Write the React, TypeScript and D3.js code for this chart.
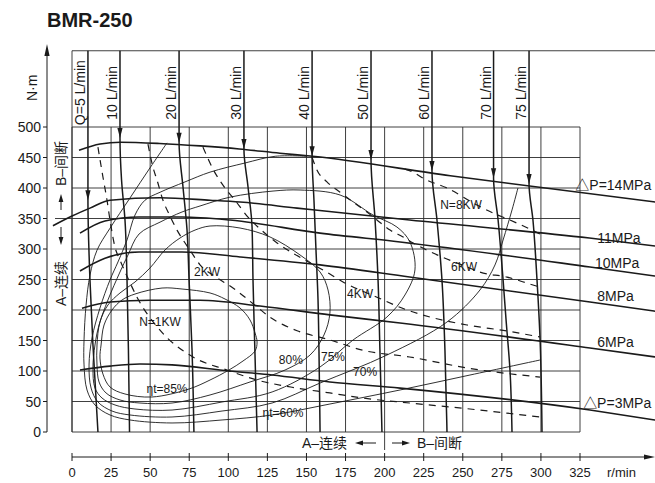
import React from 'react';
import * as d3 from 'd3';

type P = [number, number];

// ---------- data (speed r/min, torque N·m) ----------
const speedTicks = [0, 25, 50, 75, 100, 125, 150, 175, 200, 225, 250, 275, 300, 325];
const torqueTicks = [0, 50, 100, 150, 200, 250, 300, 350, 400, 450, 500];

const pressureNames = ['△P=14MPa', '11MPa', '10MPa', '8MPa', '6MPa', '△P=3MPa'];
const p14: P[] = [[4.5, 462], [18, 472], [31, 475], [56, 473], [82, 469], [107, 464], [133, 457], [154, 452], [242, 420], [373, 377]];
const p11: P[] = [[-12.2, 338], [0, 354], [11.5, 367], [24.3, 380], [56.3, 384], [88.3, 380], [107.5, 377], [144, 367], [216, 347.5], [331, 318], [373, 305]];
const p10: P[] = [[5.1, 326], [21.1, 346], [42.9, 352.5], [70.4, 352.5], [101, 347.5], [158.7, 326], [209.9, 311.5], [331.4, 270.5], [373, 255.7]];
const p8: P[] = [[5.1, 264], [21.1, 285], [42.9, 295], [70.4, 295], [107.5, 287], [158.7, 274], [216, 254], [331.4, 213], [373, 198]];
const p6: P[] = [[6.4, 203], [24.3, 213], [49.9, 216], [81.9, 216], [120.3, 206.5], [165, 192], [209.9, 178.7], [331.4, 137.7], [373, 123]];
const p3: P[] = [[5.1, 101.6], [24.3, 108], [43.5, 111.5], [64, 110], [100.4, 100], [128, 93.4], [165, 82], [209.9, 72], [331.4, 36], [373, 19.7]];
const pressureLines = [p14, p11, p10, p8, p6, p3];
// label anchors (speed, torque) for the right-hand pressure labels
const pressureLabelPos: P[] = [[322, 397], [336, 310], [334.6, 269], [336, 215], [336, 140], [327, 40]];

const flowNames = ['Q=5 L/min', '10 L/min', '20 L/min', '30 L/min', '40 L/min', '50 L/min', '60 L/min', '70 L/min', '75 L/min'];
const q5: P[] = [[10.2, 625], [10.2, 380], [11.5, 249], [13.4, 143], [16.6, 0]];
const q10: P[] = [[30.7, 625], [30.7, 482], [31.7, 413], [33.9, 347.5], [35.2, 249], [36.1, 134], [36.8, 0]];
const q20: P[] = [[68.5, 625], [68.5, 474], [71, 402], [73.6, 331], [74.9, 249], [76.8, 134], [78, 0]];
const q30: P[] = [[110, 625], [110, 464], [112.6, 402], [115.2, 336], [115.8, 249], [117, 134], [118.4, 0]];
const q40: P[] = [[153.6, 625], [153.6, 452], [154.8, 380], [156.1, 298], [157.4, 216], [158, 134], [158.7, 0]];
const q50: P[] = [[191.3, 625], [191.3, 446], [193.9, 347.5], [195.8, 249], [197, 134], [198.3, 0]];
const q60: P[] = [[230.3, 625], [230.3, 428], [233.5, 347.5], [236.7, 249], [238.6, 134], [239.9, 0]];
const q70: P[] = [[269.7, 625], [269.7, 416], [272.6, 347.5], [275.8, 249], [277.7, 183.6], [280.2, 101.6], [281.5, 0]];
const q75: P[] = [[292.4, 625], [292.4, 406.5], [294.9, 347.5], [297.5, 249], [299.4, 155.7], [300.7, 0]];
const flowLines = [q5, q10, q20, q30, q40, q50, q60, q70, q75];
const flowLabelTorque = [503, 512, 512, 512, 512, 512, 512, 512, 512];

const powerNames = ['N=1KW', '2KW', '4KW', '6KW', 'N=8KW'];
const pw1: P[] = [[16.6, 467], [19.8, 418], [22.4, 380], [24.3, 347.5], [27.5, 303], [30.7, 282], [35.8, 252], [41.6, 221], [56.3, 167], [77.4, 123], [99.2, 101.6], [118.4, 85.2], [144, 72], [165, 64], [186, 55.7], [216, 47.5], [254.6, 37.7], [299.4, 24.6]];
const pw2: P[] = [[48.6, 472], [51.8, 434], [54.4, 413], [58.2, 380], [62.7, 354], [67.2, 331], [71, 315], [75.5, 298], [81.9, 274], [91.5, 255], [103, 236], [118.4, 205], [126.7, 188], [135, 176], [144, 166], [165, 151], [186, 134], [216, 123], [252.7, 105], [299.4, 90]];
const pw4: P[] = [[83.8, 467], [90.2, 431], [97.9, 400], [104.3, 380], [112, 354], [120.3, 333], [131.2, 310], [141.4, 293], [150.4, 280], [165, 259], [173.4, 246], [195.1, 221], [214.3, 200], [229, 188.5], [252.7, 175.4], [278.3, 165.6], [299.4, 155.7]];
const pw6: P[] = [[153.6, 450], [156.7, 429.5], [163.1, 410], [171.5, 393], [179.8, 377], [188.7, 360.7], [195.1, 347.5], [203.5, 331], [211.8, 319.7], [218.2, 310], [227.1, 298], [236.7, 287], [251.4, 272], [261, 262], [278.3, 254], [294.9, 241], [299.4, 237.7]];
const pw8: P[] = [[213, 431], [218.2, 426], [224.6, 416], [239.9, 400], [259.1, 372], [269.4, 359], [280.2, 347.5], [294.3, 331], [299.4, 324.6]];
const powerLines = [pw1, pw2, pw4, pw6, pw8];
const powerLabelPos: P[] = [[56.3, 180], [86.4, 262], [184.3, 226], [250.8, 270.5], [248.9, 372]];

const effNames = ['ηt=85%', '80%', '75%', '70%', 'ηt=60%'];
const eff60: P[] = [[60.8, 474], [49.9, 433], [37.1, 383.6], [24.3, 334], [16, 298], [11.5, 257], [9, 208], [7.7, 151], [7.7, 110], [9.6, 68.9], [14.7, 44.3], [24.3, 27.9], [37.1, 19.7], [64, 14.8], [96, 19.7], [128, 27.9], [165, 45.9], [209.9, 68.9], [254.6, 93.4], [299.4, 118]];
const eff70: P[] = [[150.4, 452], [130, 452], [110.7, 441], [88.3, 426], [72.3, 410], [56.3, 393], [46.7, 380], [40.3, 355.7], [35.2, 314.8], [29.4, 278.7], [24.3, 249.2], [17.9, 203.3], [12.8, 154.1], [10.9, 109.8], [12.2, 72.1], [16.6, 49.2], [25.6, 34.4], [37.1, 27.9], [64, 24.6], [96, 34.4], [128, 47.5], [158.7, 80.3], [201.5, 126.2], [239.9, 180.3], [261, 232.8], [270.6, 273.8], [275.8, 314.8], [281.5, 364], [285.3, 400]];
const eff75: P[] = [[219.4, 265.6], [216.2, 311.5], [207.9, 336], [192.6, 355.7], [171.5, 388.5], [145.9, 396.7], [128.6, 395], [101.1, 385], [81.9, 370.5], [70.4, 360.7], [56.3, 344], [42.9, 324.6], [35.8, 290], [30.7, 262.3], [23, 216.4], [17.3, 175.4], [14.7, 142.6], [13.4, 104.9], [14.7, 72.1], [19.2, 55.7], [27.5, 44.3], [40.3, 37.7], [64, 36], [96, 49.2], [128, 65.6], [158.7, 106.6], [179.8, 150.8], [201.5, 188.5], [213, 224.6]];
const eff80: P[] = [[16, 142.6], [17.9, 180.3], [23, 208.2], [30.7, 227.9], [40.3, 245.9], [49.9, 268.9], [59.5, 298.4], [69.1, 318], [78.7, 331], [88.3, 337.7], [107.5, 334.4], [126.7, 319.7], [145.9, 290.2], [158.7, 262.3], [163.8, 232.8], [165, 195], [161.2, 159], [152.3, 126.2], [136.3, 101.6], [113.9, 82], [88.3, 60.7], [64, 47.5], [43.5, 47.5], [30.7, 52.5], [21.8, 63.9], [17.3, 82], [16, 109.8]];
const eff85: P[] = [[18.6, 142.6], [20.5, 175.4], [25.6, 200], [32, 216.4], [40.3, 226.2], [57.6, 236], [70.4, 234.4], [88.3, 227.9], [97.9, 218], [107.5, 203.3], [113.9, 183.6], [117.1, 162.3], [118.4, 147.5], [117.1, 132.8], [109.4, 116.4], [100.4, 101.6], [88.3, 85.2], [74.9, 70.5], [51.2, 57.4], [33.9, 62.3], [24.3, 73.8], [19.8, 95], [17.9, 121.3]];
const effClosed = [eff85, eff80, eff75];
const effOpen = [eff70, eff60];
const effLabelPos: P[] = [[60.8, 70.5], [140, 118], [167, 123], [187.5, 98.4], [135, 31]];

const TOP_T = 625;   // torque value at the top frame line
const END_N = 373;   // speed value at the right edge

const FONT = "'Liberation Sans', Arial, 'Noto Sans CJK SC', sans-serif";
const INK = '#1a1a1a';

export default function App() {
  const x = d3.scaleLinear().domain([0, 325]).range([72, 580]);
  const y = d3.scaleLinear().domain([0, 500]).range([432, 127]);

  const lineMX = d3.line<P>().x(d => x(d[0])).y(d => y(d[1])).curve(d3.curveMonotoneX);
  const lineMY = d3.line<P>().x(d => x(d[0])).y(d => y(d[1])).curve(d3.curveMonotoneY);
  const lineCR = d3.line<P>().x(d => x(d[0])).y(d => y(d[1])).curve(d3.curveCatmullRom.alpha(0.5));
  const lineCRC = d3.line<P>().x(d => x(d[0])).y(d => y(d[1])).curve(d3.curveCatmullRomClosed.alpha(0.5));

  const x0 = x(0), xR = x(325), y0 = y(0), yTop = y(500), yFrame = y(TOP_T), xEnd = x(END_N);
  const axisY = 457;
  const yAxisX = 47;

  return (
    <svg width={655} height={483} viewBox="0 0 655 483"
      style={{ position: 'absolute', left: 0, top: 0, background: '#fff' }}
      fontFamily={FONT}>
      <rect x={0} y={0} width={655} height={483} fill="#fff" />
      {/* title */}
      <text x={47} y={27} fontSize={20} fontWeight="bold" fill={INK}>BMR-250</text>

      {/* grid */}
      <g stroke="#2a2a2a" strokeWidth={0.9}>
        {speedTicks.map(s => (
          <line key={'gv' + s} x1={x(s)} x2={x(s)} y1={yTop} y2={y0} />
        ))}
        {torqueTicks.map(t => (
          <line key={'gh' + t} x1={x0} x2={xR} y1={y(t)} y2={y(t)} />
        ))}
        <line x1={x0} x2={x0} y1={yFrame} y2={y0} />
        <line x1={x0} x2={xEnd} y1={yFrame} y2={yFrame} />
        {/* A/B dividers */}
        <line x1={x(200)} x2={x(200)} y1={y0} y2={y0 + 18} />
        <line x1={55} x2={x0} y1={y(350)} y2={y(350)} />
      </g>

      {/* efficiency contours */}
      <g fill="none" stroke={INK} strokeWidth={0.9}>
        {effClosed.map((d, i) => <path key={'ec' + i} d={lineCRC(d) || ''} />)}
        {effOpen.map((d, i) => <path key={'eo' + i} d={lineCR(d) || ''} />)}
      </g>

      {/* power curves (dashed) */}
      <g fill="none" stroke={INK} strokeWidth={1.2} strokeDasharray="7,6">
        {powerLines.map((d, i) => <path key={'pw' + i} d={lineMX(d) || ''} />)}
      </g>

      {/* pressure lines */}
      <g fill="none" stroke={INK} strokeWidth={1.6}>
        {pressureLines.map((d, i) => <path key={'p' + i} d={lineMX(d) || ''} />)}
      </g>

      {/* flow lines with arrows */}
      <g fill="none" stroke={INK} strokeWidth={1.5}>
        {flowLines.map((d, i) => <path key={'q' + i} d={lineMY(d) || ''} />)}
      </g>
      <g fill={INK}>
        {flowLines.map((d, i) => {
          const tx = x(d[1][0]), ty = y(d[1][1]);
          return <path key={'qa' + i} d={`M${tx},${ty} L${tx - 2.6},${ty - 10} L${tx + 2.6},${ty - 10} Z`} />;
        })}
      </g>
      <g fontSize={14} fill={INK}>
        {flowLines.map((d, i) => (
          <text key={'ql' + i} transform={`translate(${x(d[0][0]) - 3},${y(flowLabelTorque[i])}) rotate(-90)`}>{flowNames[i]}</text>
        ))}
      </g>

      {/* inner labels */}
      <g fontSize={12} fill={INK} textAnchor="middle" dominantBaseline="central">
        {powerNames.map((n, i) => (
          <text key={'pl' + i} x={x(powerLabelPos[i][0])} y={y(powerLabelPos[i][1])}>{n}</text>
        ))}
        {effNames.map((n, i) => (
          <text key={'el' + i} x={x(effLabelPos[i][0])} y={y(effLabelPos[i][1])}>{n}</text>
        ))}
      </g>

      {/* pressure labels */}
      <g fontSize={14} fill={INK}>
        {pressureNames.map((n, i) => (
          <text key={'pn' + i} x={x(pressureLabelPos[i][0])} y={y(pressureLabelPos[i][1])}>{n}</text>
        ))}
      </g>

      {/* y axis */}
      <g stroke={INK} strokeWidth={1}>
        <line x1={yAxisX} x2={yAxisX} y1={y0} y2={50} />
        {torqueTicks.map(t => <line key={'yt' + t} x1={yAxisX - 4} x2={yAxisX} y1={y(t)} y2={y(t)} />)}
      </g>
      <path d={`M${yAxisX},44 L${yAxisX - 2.6},56 L${yAxisX + 2.6},56 Z`} fill={INK} />
      <g fontSize={14} fill={INK} textAnchor="end" dominantBaseline="central">
        {torqueTicks.map(t => <text key={'yl' + t} x={41} y={y(t)}>{t}</text>)}
      </g>
      <text transform="translate(37,101) rotate(-90)" fontSize={14} fill={INK}>N·m</text>

      {/* left A/B labels */}
      <text transform="translate(66,186) rotate(-90)" fontSize={14} fill={INK}>B–间断</text>
      <text transform="translate(66,306) rotate(-90)" fontSize={14} fill={INK}>A–连续</text>
      <g stroke={INK} strokeWidth={1}>
        <line x1={61} x2={61} y1={210} y2={200} />
        <line x1={61} x2={61} y1={227} y2={238} />
      </g>
      <path d="M61,194 L58.6,202 L63.4,202 Z" fill={INK} />
      <path d="M61,245 L58.6,237 L63.4,237 Z" fill={INK} />

      {/* x axis */}
      <g stroke={INK} strokeWidth={1}>
        <line x1={x0} x2={648} y1={axisY} y2={axisY} />
        {speedTicks.map(s => <line key={'xt' + s} x1={x(s)} x2={x(s)} y1={axisY - 4} y2={axisY + 4} />)}
      </g>
      <path d={`M655,${axisY} L644,${axisY - 2.6} L644,${axisY + 2.6} Z`} fill={INK} />
      <g fontSize={13} fill={INK} textAnchor="middle">
        {speedTicks.map(s => <text key={'xl' + s} x={x(s)} y={477}>{s}</text>)}
      </g>
      <text x={607} y={477} fontSize={13} fill={INK}>r/min</text>

      {/* bottom A/B labels */}
      <text x={347} y={448} fontSize={14} fill={INK} textAnchor="end">A–连续</text>
      <text x={417} y={448} fontSize={14} fill={INK}>B–间断</text>
      <g stroke={INK} strokeWidth={1}>
        <line x1={362} x2={376} y1={443} y2={443} />
        <line x1={392} x2={403} y1={443} y2={443} />
      </g>
      <path d="M355,443 L363,440.6 L363,445.4 Z" fill={INK} />
      <path d="M410,443 L402,440.6 L402,445.4 Z" fill={INK} />
    </svg>
  );
}
